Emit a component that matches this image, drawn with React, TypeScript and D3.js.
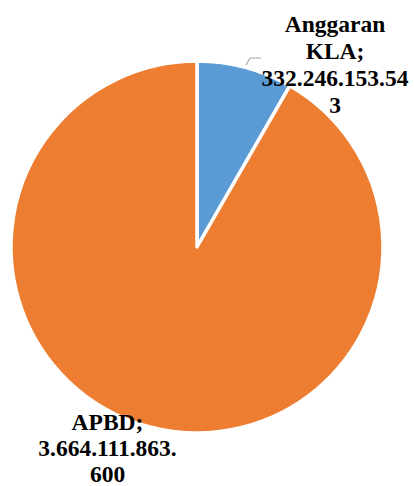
import React, { useRef, useEffect } from "react"
import * as d3 from "d3"

// chart values
const labels = ["Anggaran KLA", "APBD"]
const values = [332246153543, 3664111863600]
const labelLines = [
  ["Anggaran", "KLA;", "332.246.153.54", "3"],
  ["APBD;", "3.664.111.863.", "600"],
]
const colors = ["#5B9BD5", "#ED7D31"]

export default function App() {
  const svgRef = useRef<SVGSVGElement>(null)

  useEffect(() => {
    const width = 414, height = 486
    const cx = 197, cy = 247, radius = 186

    const svg = d3.select(svgRef.current)
    svg.selectAll("*").remove()

    const data = labels.map((l, i) => ({ label: l, value: values[i], idx: i }))

    const pie = d3.pie<any>().sort(null).value((d: any) => d.value)
    const arc = d3.arc<any>().innerRadius(0).outerRadius(radius)

    const g = svg.append("g").attr("transform", "translate(" + cx + "," + cy + ")")

    g.selectAll("path")
      .data(pie(data))
      .enter()
      .append("path")
      .attr("d", arc)
      .attr("fill", (d: any) => colors[d.data.idx])
      .attr("stroke", "#ffffff")
      .attr("stroke-width", 3.5)
      .attr("stroke-linejoin", "round")

    // leader line for the small slice
    svg.append("polyline")
      .attr("points", "246,65 250,58 261,58")
      .attr("fill", "none")
      .attr("stroke", "#a6a6a6")
      .attr("stroke-width", 1.2)

    // label blocks (x center, first baseline)
    const labelPos = [
      { x: 335, y: 32 },
      { x: 107.5, y: 429.5 },
    ]
    const lineH = [27, 26]

    labelLines.forEach((lines, i) => {
      const t = svg.append("text")
        .attr("text-anchor", "middle")
        .attr("font-family", "'Liberation Serif', 'Times New Roman', serif")
        .attr("font-weight", "bold")
        .attr("font-size", "23.5px")
        .attr("fill", "#000000")
      lines.forEach((s, j) => {
        t.append("tspan")
          .attr("x", labelPos[i].x)
          .attr("y", labelPos[i].y + j * lineH[i])
          .text(s)
      })
    })

    svg.attr("width", width).attr("height", height)
  }, [])

  return (
    <svg
      ref={svgRef}
      width={414}
      height={486}
      style={{ position: "absolute", left: 0, top: 0, background: "#ffffff" }}
    ></svg>
  )
}
